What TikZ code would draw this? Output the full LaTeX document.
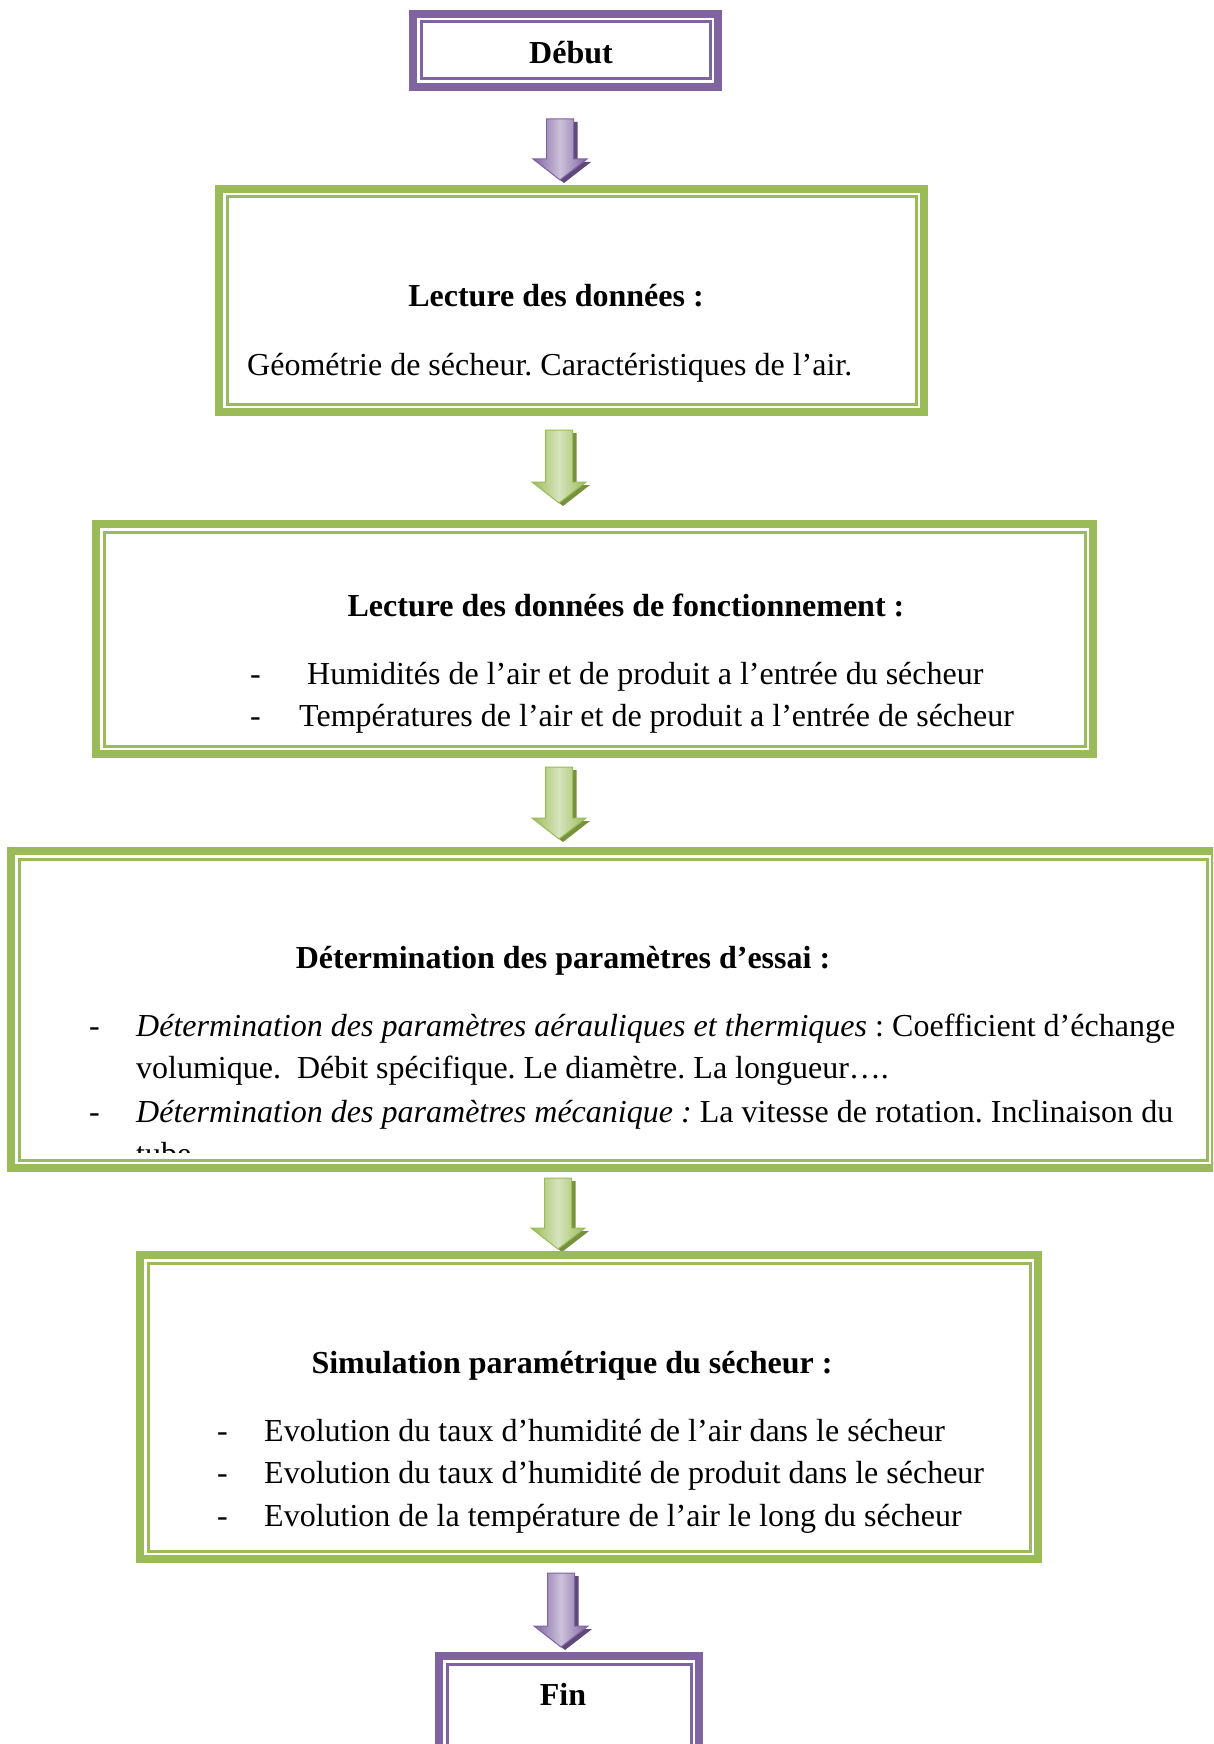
\documentclass[tikz,border=0pt]{standalone}
\usepackage{fontspec}
\setmainfont{Liberation Serif}
\usetikzlibrary{calc, positioning}
\frenchspacing

% Couleurs des cadres et des flèches
\definecolor{vertOlive}{HTML}{9BBB59}
\definecolor{vertClair}{HTML}{D7E4BD}
\definecolor{vertFonce}{HTML}{76923C}
\definecolor{mauve}{HTML}{8064A2}
\definecolor{mauveClair}{HTML}{CCC1DA}
\definecolor{mauveFonce}{HTML}{5F497A}

\tikzset{
    % cadre double : trait épais à l'extérieur, filet fin à l'intérieur
    cadre/.style={fill=white, inner sep=0pt, outer sep=0pt,
        preaction={draw=#1, line width=27pt},
        preaction={draw=white, line width=11pt},
        preaction={draw=#1, line width=6pt}},
    texte/.style={anchor=base west, inner sep=0pt, font=\fontsize{32}{42}\selectfont},
    titre/.style={anchor=base, inner sep=0pt, font=\fontsize{32}{42}\selectfont\bfseries},
}

% Flèche vers le bas : {x centre}{y haut}{y pointe}{clair}{couleur}{ombre}
\newcommand{\fleche}[6]{%
    \fill[#6, shift={(4,3)}] (#1-13.5,#2) -- (#1+13.5,#2) -- (#1+13.5,#3-21)
        -- (#1+27,#3-21) -- (#1,#3) -- (#1-27,#3-21) -- (#1-13.5,#3-21) -- cycle;
    \shade[left color=#5, right color=#5, middle color=#4]
        (#1-13.5,#2) -- (#1+13.5,#2) -- (#1+13.5,#3-21)
        -- (#1+27,#3-21) -- (#1,#3) -- (#1-27,#3-21) -- (#1-13.5,#3-21) -- cycle;
    \draw[#5, line width=1pt] (#1-13.5,#2) -- (#1+13.5,#2) -- (#1+13.5,#3-21)
        -- (#1+27,#3-21) -- (#1,#3) -- (#1-27,#3-21) -- (#1-13.5,#3-21) -- cycle;
}

\begin{document}
\begin{tikzpicture}[x=1pt, y=-1pt]
    % Page
    \useasboundingbox (0,0) rectangle (1213,1744);
    \fill[white] (0,0) rectangle (1213,1744);
    \clip (0,0) rectangle (1213,1744);

    % Début
    \node[cadre=mauve, minimum width=286pt, minimum height=54pt] (debut) at (565.5,50.5) {};
    \node[titre] (tDebut) at (571,64) {Début};

    \fleche{560}{119}{180}{mauveClair}{mauve}{mauveFonce}

    % Lecture des données
    \node[cadre=vertOlive, minimum width=686pt, minimum height=204pt] (lecture) at (571.5,300.5) {};
    \node[titre] (tLecture) at (556,306) {Lecture des données :};
    \node[texte] (geometrie) at (247,375) {Géométrie de sécheur. Caractéristiques de l’air.};

    \fleche{559}{430}{503}{vertClair}{vertOlive}{vertFonce}

    % Données de fonctionnement
    \node[cadre=vertOlive, minimum width=978pt, minimum height=211pt] (fonct) at (594.5,639) {};
    \node[titre] (tFonct) at (626,616) {Lecture des données de fonctionnement :};
    \node[texte] (tiret1) at (250,684) {-};
    \node[texte] (humidite) at (307,684) {Humidités de l’air et de produit a l’entrée du sécheur};
    \node[texte] (tiret2) at (250,726) {-};
    \node[texte] (temperature) at (299,726) {Températures de l’air et de produit a l’entrée de sécheur};

    \fleche{559}{767}{839}{vertClair}{vertOlive}{vertFonce}

    % Paramètres d'essai
    \node[cadre=vertOlive, minimum width=1185pt, minimum height=298pt] (essai) at (613,1009.5) {};
    \node[titre] (tEssai) at (563,968) {Détermination des paramètres d’essai :};
    \node[texte] (tiret3) at (89,1036) {-};
    \node[texte] (aeraulique) at (136,1036) {\makebox[1039pt][s]{\itshape Détermination des paramètres aérauliques et thermiques\upshape{} : Coefficient d’échange}};
    \node[texte] (volumique) at (136,1078) {volumique.\ \ Débit spécifique. Le diamètre. La longueur….};
    \node[texte] (tiret4) at (89,1122) {-};
    \node[texte] (mecanique) at (136,1122) {\makebox[1037pt][s]{\itshape Détermination des paramètres mécanique :\upshape{} La vitesse de rotation. Inclinaison du}};
    \begin{scope}
        \clip (20,1100) rectangle (1205,1152);
        \node[texte] (tube) at (136,1164) {tube.};
    \end{scope}

    \fleche{558}{1178}{1249}{vertClair}{vertOlive}{vertFonce}

    % Simulation
    \node[cadre=vertOlive, minimum width=879pt, minimum height=285pt] (simulation) at (589,1407) {};
    \node[titre] (tSimulation) at (572,1373) {Simulation paramétrique du sécheur :};
    \node[texte] (tiret5) at (217,1441) {-};
    \node[texte] (evolAir) at (264,1441) {Evolution du taux d’humidité de l’air dans le sécheur};
    \node[texte] (tiret6) at (217,1483) {-};
    \node[texte] (evolProduit) at (264,1483) {Evolution du taux d’humidité de produit dans le sécheur};
    \node[texte] (tiret7) at (217,1526) {-};
    \node[texte] (evolTemp) at (264,1526) {Evolution de la température de l’air le long du sécheur};

    \fleche{561}{1573}{1647}{mauveClair}{mauve}{mauveFonce}

    % Fin
    \node[cadre=mauve, minimum width=241pt, minimum height=81pt] (fin) at (569,1706) {};
    \node[titre] (tFin) at (563,1705) {Fin};
\end{tikzpicture}
\end{document}
